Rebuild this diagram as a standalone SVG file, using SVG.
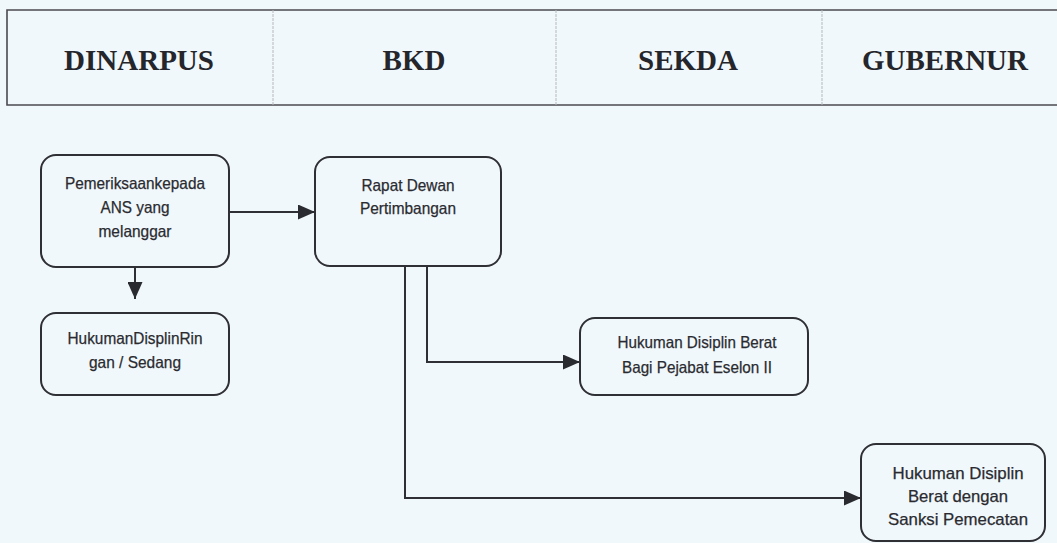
<svg xmlns="http://www.w3.org/2000/svg" width="1057" height="543" viewBox="0 0 1057 543">
  <style>
    .bg { fill: #f1f8fc; }
    .hdr-line { stroke: #4a4a4f; stroke-width: 1.6; fill: none; }
    .hdr-div { stroke: #b4b8bc; stroke-width: 1; stroke-dasharray: 3 1; fill: none; }
    .hdr-text { font-family: "Liberation Serif", "Times New Roman", serif; font-weight: bold; font-size: 29px; fill: #25262b; text-anchor: middle; }
    .box { fill: none; stroke: #2f3035; stroke-width: 2; }
    .label { font-family: "Liberation Sans", Arial, sans-serif; font-size: 16.5px; fill: #2a2b30; stroke: #2a2b30; stroke-width: 0.25; text-anchor: middle; }
    .conn { fill: none; stroke: #2f3035; stroke-width: 2; }
  </style>
  <defs>
    <marker id="arrow" viewBox="0 0 17 15" refX="17" refY="7.5" markerWidth="17" markerHeight="15" markerUnits="userSpaceOnUse" orient="auto">
      <path d="M0,0 L17,7.5 L0,15 Z" fill="#2a2b30"/>
    </marker>
  </defs>

  <rect class="bg" x="0" y="0" width="1057" height="543"/>

  <!-- header row with the four units -->
  <g id="header">
    <path class="hdr-line" d="M1057,10 H7 V105 H1057"/>
    <line class="hdr-div" x1="273" y1="10" x2="273" y2="105"/>
    <line class="hdr-div" x1="556" y1="10" x2="556" y2="105"/>
    <line class="hdr-div" x1="822" y1="10" x2="822" y2="105"/>
    <text class="hdr-text" x="139" y="70">DINARPUS</text>
    <text class="hdr-text" x="414" y="70">BKD</text>
    <text class="hdr-text" x="688" y="70">SEKDA</text>
    <text class="hdr-text" x="945" y="70">GUBERNUR</text>
  </g>

  <!-- connectors -->
  <g id="connectors">
    <path class="conn" d="M229,212 H315" marker-end="url(#arrow)"/>
    <path class="conn" d="M135,267 V299" marker-end="url(#arrow)"/>
    <path class="conn" d="M427,266 V362 H580" marker-end="url(#arrow)"/>
    <path class="conn" d="M405,266 V498 H861" marker-end="url(#arrow)"/>
  </g>

  <g id="node-pemeriksaan">
    <rect class="box" x="41" y="155" width="188" height="112" rx="15"/>
    <text class="label" x="135" y="189" textLength="140" lengthAdjust="spacingAndGlyphs">Pemeriksaankepada</text>
    <text class="label" x="135" y="213" textLength="69" lengthAdjust="spacingAndGlyphs">ANS yang</text>
    <text class="label" x="135" y="237" textLength="73" lengthAdjust="spacingAndGlyphs">melanggar</text>
  </g>

  <g id="node-rapat">
    <rect class="box" x="315" y="157" width="186" height="109" rx="15"/>
    <text class="label" x="408" y="191" textLength="93" lengthAdjust="spacingAndGlyphs">Rapat Dewan</text>
    <text class="label" x="408" y="214" textLength="96" lengthAdjust="spacingAndGlyphs">Pertimbangan</text>
  </g>

  <g id="node-ringan">
    <rect class="box" x="41" y="313" width="188" height="82" rx="15"/>
    <text class="label" x="135" y="344" textLength="135" lengthAdjust="spacingAndGlyphs">HukumanDisplinRin</text>
    <text class="label" x="135" y="368" textLength="92" lengthAdjust="spacingAndGlyphs">gan / Sedang</text>
  </g>

  <g id="node-eselon">
    <rect class="box" x="580" y="318" width="228" height="77" rx="15"/>
    <text class="label" x="697" y="348" textLength="159" lengthAdjust="spacingAndGlyphs">Hukuman Disiplin Berat</text>
    <text class="label" x="697" y="373" textLength="150" lengthAdjust="spacingAndGlyphs">Bagi Pejabat Eselon II</text>
  </g>

  <g id="node-pemecatan">
    <rect class="box" x="861" y="444" width="184" height="97" rx="15"/>
    <text class="label" x="958" y="479" textLength="131" lengthAdjust="spacingAndGlyphs">Hukuman Disiplin</text>
    <text class="label" x="958" y="502" textLength="100" lengthAdjust="spacingAndGlyphs">Berat dengan</text>
    <text class="label" x="958" y="525" textLength="140" lengthAdjust="spacingAndGlyphs">Sanksi Pemecatan</text>
  </g>
</svg>
